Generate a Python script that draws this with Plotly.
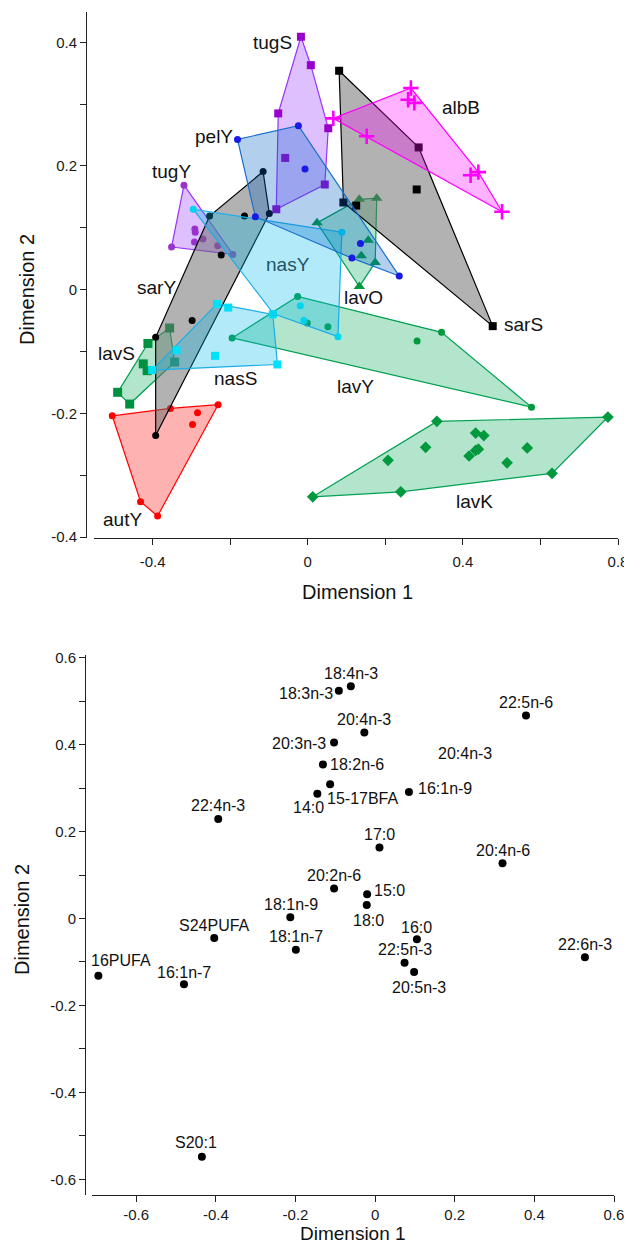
import plotly.graph_objects as go

# ---------------- Top panel data (Dimension 1, Dimension 2) ----------------
albB_x = [0.066, 0.266, 0.259, 0.275, 0.152, 0.440, 0.420, 0.501]
albB_y = [0.277, 0.326, 0.307, 0.302, 0.248, 0.190, 0.185, 0.126]
autY_x = [-0.504, -0.354, -0.231, -0.284, -0.297, -0.431, -0.387]
autY_y = [-0.204, -0.192, -0.186, -0.199, -0.218, -0.343, -0.366]
lavK_x = [0.013, 0.333, 0.774, 0.630, 0.240, 0.207, 0.304, 0.433, 0.454, 0.440, 0.433, 0.416, 0.514, 0.566]
lavK_y = [-0.335, -0.213, -0.206, -0.297, -0.327, -0.276, -0.255, -0.232, -0.236, -0.258, -0.260, -0.269, -0.280, -0.256]
lavO_x = [0.133, 0.178, 0.024, 0.156, 0.138, 0.174, 0.133]
lavO_y = [0.146, 0.148, 0.108, 0.080, 0.055, 0.044, 0.005]
lavS_x = [-0.356, -0.412, -0.424, -0.414, -0.343, -0.490, -0.459]
lavS_y = [-0.062, -0.087, -0.120, -0.131, -0.117, -0.166, -0.185]
lavY_x = [-0.026, -0.001, 0.052, -0.195, 0.345, 0.282, 0.577]
lavY_y = [-0.011, -0.054, -0.060, -0.078, -0.069, -0.083, -0.190]
nasS_x = [-0.234, -0.205, -0.090, -0.078, -0.239, -0.338, -0.401]
nasS_y = [-0.023, -0.029, -0.040, -0.121, -0.107, -0.098, -0.130]
nasY_x = [-0.295, 0.088, 0.078, -0.019, -0.010, -0.088]
nasY_y = [0.130, 0.093, -0.076, -0.026, -0.050, -0.039]
pelY_x = [-0.181, -0.024, -0.007, -0.135, 0.136, 0.114, 0.236]
pelY_y = [0.243, 0.265, 0.195, 0.118, 0.0745, 0.051, 0.022]
sarS_x = [0.081, 0.286, 0.281, 0.092, 0.125, 0.477]
sarS_y = [0.354, 0.230, 0.162, 0.141, 0.136, -0.059]
sarY_x = [-0.115, -0.099, -0.163, -0.253, -0.223, -0.298, -0.392, -0.392]
sarY_y = [0.191, 0.123, 0.119, 0.119, 0.056, -0.050, -0.077, -0.236]
tugS_x = [-0.0175, 0.008, -0.076, 0.053, -0.058, 0.044, -0.081]
tugS_y = [0.409, 0.363, 0.285, 0.261, 0.213, 0.170, 0.130]
tugY_x = [-0.319, -0.351, -0.291, -0.290, -0.292, -0.270, -0.232, -0.193]
tugY_y = [0.169, 0.069, 0.098, 0.093, 0.077, 0.082, 0.071, 0.057]

group_names = ["tugS", "albB", "pelY", "tugY", "sarY", "nasY", "lavO",
               "sarS", "lavS", "nasS", "lavY", "autY", "lavK"]
group_label_x = [-0.091, 0.395, -0.241, -0.350, -0.391, -0.052, 0.144,
                 0.557, -0.493, -0.185, 0.122, -0.477, 0.429]
group_label_y = [0.400, 0.294, 0.248, 0.191, 0.003, 0.040, -0.012,
                 -0.057, -0.103, -0.143, -0.157, -0.372, -0.343]

# ---------------- Bottom panel data (fatty acids) ----------------
fa_names = ["18:4n-3", "18:3n-3", "20:4n-3", "20:3n-3", "18:2n-6", "15-17BFA",
            "14:0", "22:4n-3", "17:0", "22:5n-6", "16:1n-9", "20:4n-6",
            "20:2n-6", "18:1n-9", "18:1n-7", "S24PUFA", "16PUFA", "16:1n-7",
            "15:0", "18:0", "16:0", "22:5n-3", "20:5n-3", "22:6n-3", "S20:1"]
fa_x = [-0.061, -0.091, -0.027, -0.103, -0.131, -0.113,
        -0.145, -0.394, 0.011, 0.379, 0.085, 0.320,
        -0.103, -0.213, -0.199, -0.404, -0.695, -0.480,
        -0.020, -0.021, 0.105, 0.074, 0.098, 0.527, -0.435]
fa_y = [0.534, 0.524, 0.428, 0.405, 0.354, 0.309,
        0.287, 0.229, 0.163, 0.467, 0.291, 0.127,
        0.069, 0.003, -0.072, -0.045, -0.132, -0.151,
        0.056, 0.031, -0.048, -0.102, -0.123, -0.089, -0.548]
extra_label = "20:4n-3"
extra_label_x = 0.226
extra_label_y = 0.379

# ---------------- helpers ----------------
def convex_hull(xs, ys):
    pts = sorted(set(zip(xs, ys)))
    def cross(o, a, b):
        return (a[0]-o[0])*(b[1]-o[1]) - (a[1]-o[1])*(b[0]-o[0])
    lower = []
    for p in pts:
        while len(lower) >= 2 and cross(lower[-2], lower[-1], p) <= 0:
            lower.pop()
        lower.append(p)
    upper = []
    for p in reversed(pts):
        while len(upper) >= 2 and cross(upper[-2], upper[-1], p) <= 0:
            upper.pop()
        upper.append(p)
    h = lower[:-1] + upper[:-1]
    h.append(h[0])
    return [p[0] for p in h], [p[1] for p in h]

GREEN_F = "rgba(0,170,85,0.30)"
GREEN_L = "#00a050"
CYAN_F = "rgba(0,185,235,0.30)"
CYAN_L = "#19aee8"
PURP_F = "rgba(153,60,255,0.32)"
PURP_L = "#9933ff"

# name, xs, ys, symbol, size, marker color, line color, fill color
groups = [
    ("autY", autY_x, autY_y, "circle", 7, "#ff0000", "#ff0000", "rgba(255,0,0,0.30)"),
    ("lavK", lavK_x, lavK_y, "diamond", 9, "#00993d", GREEN_L, GREEN_F),
    ("lavY", lavY_x, lavY_y, "circle", 7, "#00993d", GREEN_L, GREEN_F),
    ("lavS", lavS_x, lavS_y, "square", 9, "#009140", GREEN_L, GREEN_F),
    ("lavO", lavO_x, lavO_y, "triangle-up", 10, "#00993d", GREEN_L, GREEN_F),
    ("tugY", tugY_x, tugY_y, "circle", 7, "#9933cc", PURP_L, PURP_F),
    ("tugS", tugS_x, tugS_y, "square", 8, "#9900cc", PURP_L, PURP_F),
    ("sarY", sarY_x, sarY_y, "circle", 7, "#000000", "#000000", "rgba(110,110,110,0.53)"),
    ("sarS", sarS_x, sarS_y, "square", 8, "#000000", "#000000", "rgba(110,110,110,0.53)"),
    ("nasS", nasS_x, nasS_y, "square", 8, "#00e0f8", CYAN_L, CYAN_F),
    ("nasY", nasY_x, nasY_y, "circle", 7, "#00d4ee", CYAN_L, CYAN_F),
    ("pelY", pelY_x, pelY_y, "circle", 7, "#1a1ae6", "#1a6fcc", "rgba(0,100,200,0.30)"),
    ("albB", albB_x, albB_y, "cross-thin", 11, "#ff00ff", "#ff00ff", "rgba(255,0,255,0.30)"),
]

fig = go.Figure()
for name, xs, ys, sym, size, mc, lc, fc in groups:
    hx, hy = convex_hull(xs, ys)
    fig.add_trace(go.Scatter(x=hx, y=hy, mode="lines", fill="toself",
                             fillcolor=fc, line=dict(color=lc, width=1.2),
                             xaxis="x", yaxis="y", showlegend=False, hoverinfo="skip"))
    if sym == "cross-thin":
        mk = dict(symbol=sym, size=size, color=mc, line=dict(color=mc, width=2.6))
    else:
        mk = dict(symbol=sym, size=size, color=mc, line=dict(width=0))
    fig.add_trace(go.Scatter(x=xs, y=ys, mode="markers", marker=mk, name=name,
                             xaxis="x", yaxis="y", showlegend=False))

label_colors = {"nasY": "#1e5566"}
for n, lx, ly in zip(group_names, group_label_x, group_label_y):
    fig.add_annotation(x=lx, y=ly, xref="x", yref="y", text=n, showarrow=False,
                       font=dict(size=19, color=label_colors.get(n, "#111111")))

# bottom panel: points
fig.add_trace(go.Scatter(x=fa_x, y=fa_y, mode="markers",
                         marker=dict(symbol="circle", size=8, color="#000000"),
                         xaxis="x2", yaxis="y2", showlegend=False))
# label offsets (pixels, label centre relative to its point; +dy = down)
label_off = {
    "18:4n-3": (0, -13), "18:3n-3": (-33, 3), "20:4n-3": (0, -13),
    "20:3n-3": (-35, 1), "18:2n-6": (34, 0), "15-17BFA": (32, 14),
    "14:0": (-9, 14), "22:4n-3": (0, -13), "17:0": (0, -13),
    "22:5n-6": (0, -13), "16:1n-9": (36, -3), "20:4n-6": (0, -13),
    "20:2n-6": (0, -13), "18:1n-9": (1, -13), "18:1n-7": (0, -13),
    "S24PUFA": (0, -13), "16PUFA": (23, -15), "16:1n-7": (0, -12),
    "15:0": (22, -4), "18:0": (2, 15), "16:0": (0, -12),
    "22:5n-3": (0, -13), "20:5n-3": (5, 16), "22:6n-3": (0, -13),
    "S20:1": (-6, -14),
}
for n, px_, py_ in zip(fa_names, fa_x, fa_y):
    dx, dy = label_off[n]
    fig.add_annotation(x=px_, y=py_, xref="x2", yref="y2", text=n, showarrow=False,
                       xanchor="center", yanchor="middle", xshift=dx, yshift=-dy,
                       font=dict(size=16, color="#111111"))
fig.add_annotation(x=extra_label_x, y=extra_label_y, xref="x2", yref="y2",
                   text=extra_label, showarrow=False,
                   font=dict(size=16, color="#111111"))

# The page body has an 8px margin: lay out in window pixels, shifted by it.
OFF = 8
W, H = 632 - OFF, 1245 - OFF
def px(x):
    return (x - OFF) / W
def py(y):
    return 1 - (y - OFF) / H

FONT = "Liberation Sans, Arial, sans-serif"
axis_common = dict(showgrid=False, zeroline=False, showline=True, linecolor="#222222",
                   linewidth=1, ticks="outside", ticklen=6, tickcolor="#222222",
                   automargin=False, tickfont=dict(size=15, color="#1a1a1a"))

top_x_ticks = [-0.4, -0.2, 0, 0.2, 0.4, 0.6, 0.8]
top_x_text = ["-0.4", "", "0", "", "0.4", "", "0.8"]
top_y_ticks = [-0.4, -0.3, -0.2, -0.1, 0, 0.1, 0.2, 0.3, 0.4]
top_y_text = ["-0.4", "", "-0.2", "", "0", "", "0.2", "", "0.4"]
bot_x_ticks = [-0.6, -0.4, -0.2, 0, 0.2, 0.4, 0.6]
bot_x_text = ["-0.6", "-0.4", "-0.2", "0", "0.2", "0.4", "0.6"]
bot_y_ticks = [-0.6, -0.5, -0.4, -0.3, -0.2, -0.1, 0, 0.1, 0.2, 0.3, 0.4, 0.5, 0.6]
bot_y_text = ["-0.6", "", "-0.4", "", "-0.2", "", "0", "", "0.2", "", "0.4", "", "0.6"]

fig.update_layout(
    template="none",
    width=W, height=H, margin=dict(l=0, r=0, t=0, b=0, autoexpand=False),
    paper_bgcolor="white", plot_bgcolor="white",
    font=dict(family=FONT, color="#111111"),
    xaxis=dict(domain=[px(94), px(618)], range=[-0.551, 0.8], anchor="y",
               ticklabelstandoff=4,
               tickvals=top_x_ticks, ticktext=top_x_text, **axis_common),
    yaxis=dict(domain=[py(538), py(12)], range=[-0.4016, 0.449], anchor="free",
               position=px(86), tickvals=top_y_ticks, ticktext=top_y_text, **axis_common),
    xaxis2=dict(domain=[px(92), px(614)], range=[-0.711, 0.6], anchor="y2",
                ticklabelstandoff=0,
                tickvals=bot_x_ticks, ticktext=bot_x_text, **axis_common),
    yaxis2=dict(domain=[py(1195), py(655)], range=[-0.636, 0.606], anchor="free",
                position=px(85), tickvals=bot_y_ticks, ticktext=bot_y_text, **axis_common),
)

# axis titles
for txt, x, y, ang, fs in [("Dimension 1", 357, 592, 0, 20), ("Dimension 2", 27, 290, -90, 20),
                           ("Dimension 1", 353, 1233, 0, 19), ("Dimension 2", 22, 920, -90, 20)]:
    fig.add_annotation(x=px(x), y=py(y), xref="paper", yref="paper", text=txt,
                       showarrow=False, textangle=ang, xanchor="center", yanchor="middle",
                       font=dict(size=fs, color="#111111"))

fig.write_html("out.html")
